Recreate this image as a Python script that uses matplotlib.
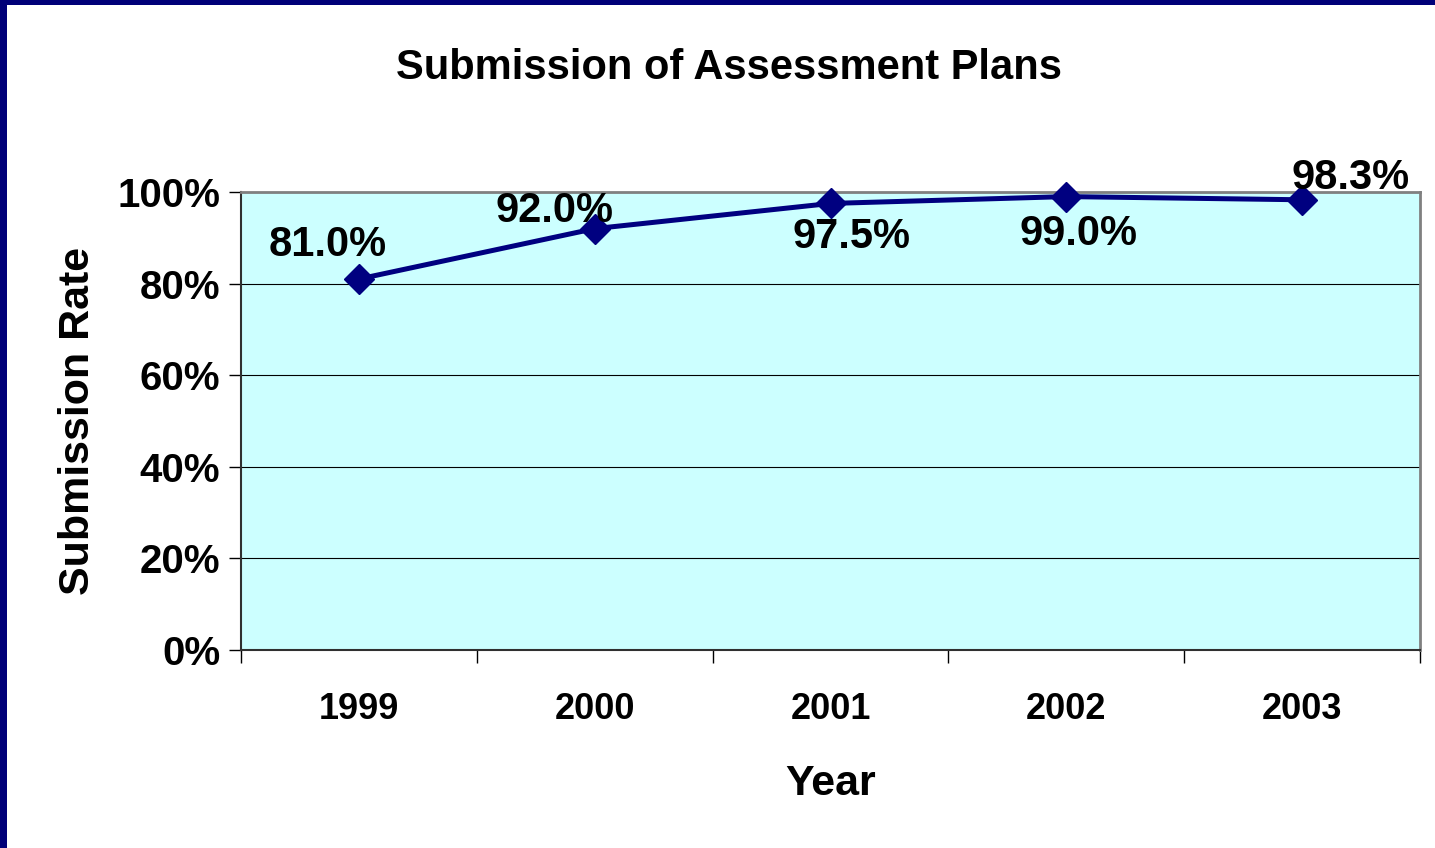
import matplotlib
matplotlib.use("Agg")
import matplotlib.pyplot as plt
from matplotlib.patches import Rectangle
from matplotlib.ticker import FixedLocator, PercentFormatter

years = ["1999", "2000", "2001", "2002", "2003"]
rates = [81.0, 92.0, 97.5, 99.0, 98.3]
# label offsets in pixels (hand placed like the original)
label_dx = [-31, -40, 21, 12, 48]
label_dy = [34, 18, -34, -37, 22]

plt.rcParams['font.family'] = ['Liberation Sans', 'DejaVu Sans']
plt.rcParams['font.weight'] = 'bold'

W, H = 1435, 848
fig = plt.figure(figsize=(W / 100, H / 100), dpi=100)
fig.patch.set_facecolor('white')

# navy frame on top and left
fig.patches.append(Rectangle((0, 1 - 5 / H), 1, 5 / H, transform=fig.transFigure,
                             facecolor='#000078', edgecolor='none'))
fig.patches.append(Rectangle((0, 0), 7 / W, 1, transform=fig.transFigure,
                             facecolor='#000078', edgecolor='none'))

ax = fig.add_axes([241 / W, 1 - 650 / H, (1420 - 241) / W, (650 - 192) / H])
ax.set_facecolor('#CCFFFF')

x = list(range(1, len(years) + 1))
ax.plot(x, rates, color='#000080', lw=3.6, marker='D', ms=15, zorder=3, clip_on=False)

for xi, r, dx, dy in zip(x, rates, label_dx, label_dy):
    ax.annotate(f"{r:.1f}%", (xi, r), xytext=(dx * 0.72, dy * 0.72), textcoords='offset points',
                ha='center', va='center', fontsize=30, fontweight='bold', zorder=4)

ax.set_xlim(0.5, len(years) + 0.5)
ax.set_ylim(0, 100)
ax.yaxis.set_major_locator(FixedLocator([0, 20, 40, 60, 80, 100]))
ax.yaxis.set_major_formatter(PercentFormatter(decimals=0))
ax.grid(axis='y', color='black', lw=0.8)
ax.set_axisbelow(True)

ax.xaxis.set_major_locator(FixedLocator([i + 0.5 for i in range(len(years) + 1)]))
ax.set_xticklabels([])
ax.xaxis.set_minor_locator(FixedLocator(x))
ax.set_xticklabels(years, minor=True)
ax.tick_params(axis='x', which='major', length=9, width=1, direction='out')
ax.tick_params(axis='x', which='minor', length=0, pad=30, labelsize=26)
ax.tick_params(axis='y', length=9, width=1, direction='out', labelsize=29, pad=6)
for lab in ax.get_xticklabels(minor=True) + ax.get_yticklabels():
    lab.set_fontweight('bold')

for side in ['top', 'right']:
    ax.spines[side].set_color('#808080')
    ax.spines[side].set_linewidth(2)
for side in ['left', 'bottom']:
    ax.spines[side].set_color('#303030')
    ax.spines[side].set_linewidth(1.5)

ax.set_xlabel("Year", fontsize=31, fontweight='bold', labelpad=27)
ax.set_ylabel("Submission Rate", fontsize=31, fontweight='bold', labelpad=14)
fig.text(729 / W, 1 - 68 / H, "Submission of Assessment Plans", ha='center', va='center',
         fontsize=30, fontweight='bold')

fig.savefig("out.png", dpi=100)
